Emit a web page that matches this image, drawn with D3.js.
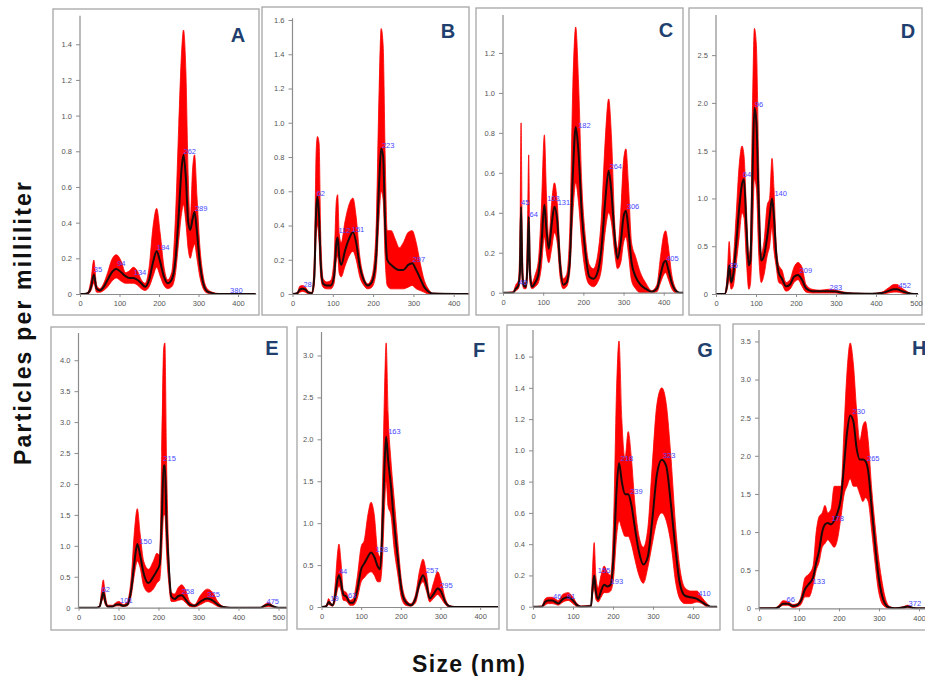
<!DOCTYPE html>
<html><head><meta charset="utf-8">
<script src="https://cdn.jsdelivr.net/npm/d3@7"></script>
<style>body{margin:0;background:#fff;overflow:hidden} svg{display:block}</style>
</head><body><svg id="c" width="925" height="676"></svg>
<script>
// rows: [size (nm), lower band, mean, upper band]  (particles per mL, scaled)
const dataA = [[0,0,0,0],[10,0,0,0],[20,0,0.005,0.01],[28,0.02,0.04,0.08],[35,0.06,0.11,0.19],[42,0.01,0.03,0.05],[50,0.01,0.02,0.03],[60,0.02,0.04,0.06],[70,0.04,0.08,0.12],[80,0.07,0.12,0.19],[92,0.09,0.14,0.22],[105,0.07,0.12,0.18],[115,0.06,0.10,0.12],[125,0.06,0.09,0.13],[135,0.06,0.09,0.15],[145,0.05,0.08,0.13],[155,0.03,0.06,0.08],[165,0.02,0.04,0.06],[175,0.04,0.08,0.15],[185,0.10,0.18,0.38],[194,0.15,0.24,0.48],[203,0.10,0.18,0.34],[212,0.05,0.10,0.16],[222,0.03,0.06,0.08],[232,0.04,0.08,0.12],[242,0.12,0.20,0.45],[250,0.30,0.45,0.95],[257,0.45,0.70,1.35],[262,0.50,0.78,1.48],[268,0.40,0.65,1.25],[274,0.25,0.40,0.65],[279,0.20,0.36,0.42],[285,0.25,0.42,0.70],[290,0.28,0.46,0.78],[296,0.20,0.35,0.55],[303,0.10,0.18,0.28],[312,0.03,0.06,0.10],[322,0.005,0.015,0.03],[335,0,0.005,0.01],[350,0,0,0.003],[445,0,0,0]];
const dataB = [[0,0,0,0],[12,0,0.005,0.01],[18,0.01,0.025,0.045],[25,0.015,0.03,0.05],[32,0.01,0.025,0.04],[40,0,0.008,0.015],[48,0,0.005,0.01],[54,0.05,0.1,0.2],[59,0.35,0.5,0.85],[62,0.4,0.57,0.92],[66,0.3,0.45,0.88],[70,0.1,0.18,0.35],[76,0.04,0.06,0.09],[85,0.03,0.05,0.07],[95,0.03,0.05,0.08],[103,0.06,0.1,0.2],[109,0.2,0.3,0.55],[112,0.22,0.33,0.58],[116,0.12,0.22,0.35],[121,0.1,0.17,0.3],[130,0.16,0.25,0.42],[140,0.22,0.32,0.52],[150,0.25,0.36,0.56],[158,0.2,0.3,0.45],[167,0.1,0.16,0.22],[177,0.05,0.08,0.1],[187,0.03,0.05,0.06],[197,0.04,0.07,0.1],[207,0.12,0.2,0.35],[215,0.45,0.65,1.2],[220,0.6,0.85,1.55],[225,0.55,0.8,1.45],[230,0.2,0.4,0.8],[235,0.05,0.2,0.37],[245,0.03,0.17,0.37],[255,0.03,0.15,0.32],[265,0.03,0.14,0.27],[275,0.03,0.14,0.3],[287,0.04,0.17,0.36],[297,0.05,0.18,0.37],[307,0.03,0.14,0.3],[317,0.02,0.09,0.18],[327,0.01,0.04,0.08],[337,0,0.015,0.03],[347,0,0.003,0.005],[437,0,0,0]];
const dataC = [[0,0,0,0],[25,0,0,0.005],[32,0.01,0.02,0.04],[38,0.02,0.035,0.06],[42,0.05,0.1,0.25],[45,0.25,0.43,0.85],[48,0.05,0.1,0.25],[52,0.02,0.035,0.05],[57,0.02,0.03,0.05],[61,0.08,0.15,0.35],[64,0.25,0.38,0.69],[67,0.05,0.1,0.2],[72,0.02,0.03,0.05],[80,0.03,0.05,0.09],[88,0.05,0.09,0.16],[95,0.12,0.22,0.4],[103,0.28,0.44,0.79],[108,0.2,0.32,0.5],[114,0.15,0.22,0.27],[121,0.22,0.34,0.45],[128,0.3,0.43,0.55],[135,0.25,0.36,0.45],[142,0.08,0.14,0.2],[150,0.02,0.04,0.07],[158,0.03,0.05,0.09],[166,0.1,0.15,0.3],[174,0.4,0.6,1.05],[181,0.55,0.83,1.33],[188,0.45,0.7,1.05],[196,0.25,0.4,0.55],[205,0.1,0.2,0.28],[215,0.04,0.08,0.14],[225,0.03,0.07,0.12],[235,0.05,0.1,0.18],[245,0.12,0.22,0.38],[254,0.3,0.45,0.75],[263,0.4,0.61,0.97],[270,0.35,0.5,0.78],[278,0.2,0.28,0.35],[285,0.12,0.17,0.22],[293,0.15,0.25,0.4],[300,0.25,0.38,0.66],[306,0.28,0.41,0.72],[312,0.2,0.32,0.55],[320,0.06,0.15,0.25],[330,0.02,0.08,0.18],[342,0,0.04,0.1],[355,0,0.02,0.05],[370,0,0.005,0.01],[383,0.005,0.02,0.04],[392,0.05,0.09,0.18],[400,0.09,0.15,0.29],[405,0.1,0.16,0.31],[411,0.07,0.12,0.24],[420,0.02,0.05,0.09],[430,0,0.01,0.02],[440,0,0,0],[448,0,0,0]];
const dataD = [[0,0,0,0],[22,0,0,0.005],[28,0.05,0.1,0.2],[33,0.15,0.3,0.55],[38,0.05,0.12,0.25],[43,0.08,0.2,0.35],[50,0.3,0.5,0.8],[58,0.6,0.9,1.35],[65,0.85,1.15,1.55],[70,0.8,1.2,1.45],[76,0.35,0.7,0.9],[82,0.05,0.3,0.4],[86,0.1,0.35,0.5],[91,0.6,1.2,1.9],[96,1.2,1.95,2.78],[101,1.1,1.8,2.6],[107,0.4,0.9,1.3],[113,0.12,0.35,0.42],[120,0.2,0.4,0.55],[128,0.4,0.6,0.93],[134,0.5,0.8,1.0],[140,0.7,1.0,1.42],[145,0.45,0.8,1.1],[150,0.3,0.45,0.55],[157,0.12,0.22,0.3],[165,0.1,0.16,0.25],[175,0.03,0.08,0.12],[185,0.05,0.1,0.15],[195,0.12,0.18,0.28],[205,0.15,0.2,0.33],[215,0.08,0.15,0.28],[225,0.02,0.06,0.1],[240,0.01,0.03,0.05],[260,0.01,0.03,0.04],[283,0.01,0.03,0.05],[300,0.01,0.025,0.04],[320,0,0.01,0.02],[350,0,0.005,0.008],[390,0,0.002,0.005],[415,0,0.01,0.02],[430,0.01,0.03,0.06],[445,0.02,0.05,0.1],[452,0.02,0.05,0.1],[465,0.01,0.03,0.06],[480,0,0.01,0.02],[495,0,0,0],[505,0,0,0]];
const dataE = [[0,0,0,0],[45,0,0,0.003],[53,0.01,0.02,0.04],[58,0.1,0.15,0.3],[62,0.15,0.25,0.45],[67,0.05,0.1,0.2],[73,0.01,0.02,0.04],[85,0.01,0.02,0.04],[95,0.03,0.05,0.09],[102,0.03,0.05,0.1],[112,0.02,0.03,0.05],[122,0.03,0.05,0.1],[132,0.2,0.3,0.5],[140,0.55,0.75,1.25],[147,0.75,1.03,1.6],[154,0.65,0.85,1.2],[163,0.35,0.55,0.75],[175,0.25,0.4,0.62],[187,0.3,0.5,0.75],[196,0.4,0.6,0.88],[203,0.45,0.7,0.85],[208,0.9,1.4,2.5],[213,1.5,2.3,4.2],[216,1.5,2.3,4.28],[220,0.9,1.4,2.4],[225,0.45,0.75,1.0],[232,0.1,0.18,0.25],[240,0.1,0.14,0.22],[250,0.12,0.19,0.33],[258,0.13,0.2,0.37],[268,0.08,0.13,0.28],[278,0.02,0.05,0.1],[290,0.01,0.03,0.05],[305,0.05,0.1,0.2],[322,0.1,0.15,0.3],[335,0.07,0.12,0.25],[348,0.02,0.05,0.1],[362,0,0.01,0.02],[380,0,0,0.003],[455,0,0,0.005],[465,0.01,0.03,0.05],[475,0.02,0.05,0.08],[487,0.01,0.02,0.03],[500,0,0,0],[520,0,0,0]];
const dataF = [[0,0,0,0],[12,0,0.01,0.02],[18,0.03,0.06,0.1],[22,0.02,0.04,0.06],[28,0.01,0.02,0.03],[35,0.08,0.15,0.3],[40,0.2,0.32,0.62],[44,0.25,0.38,0.75],[49,0.2,0.3,0.55],[55,0.08,0.15,0.2],[63,0.07,0.12,0.17],[72,0.02,0.05,0.08],[80,0.02,0.05,0.1],[90,0.1,0.2,0.35],[100,0.3,0.45,0.72],[108,0.35,0.52,0.8],[117,0.4,0.6,1.1],[125,0.42,0.65,1.25],[133,0.38,0.6,1.1],[142,0.3,0.48,0.65],[148,0.3,0.45,0.6],[154,0.6,1.0,1.5],[159,1.2,1.7,2.6],[163,1.5,2.03,3.15],[168,1.2,1.75,2.3],[175,1.1,1.45,1.75],[183,0.7,1.0,1.3],[192,0.4,0.6,0.8],[202,0.1,0.2,0.3],[212,0.02,0.06,0.1],[225,0.01,0.02,0.04],[237,0.05,0.1,0.15],[248,0.25,0.3,0.45],[256,0.3,0.38,0.57],[264,0.2,0.28,0.42],[273,0.06,0.1,0.15],[282,0.1,0.15,0.28],[293,0.15,0.22,0.42],[302,0.1,0.18,0.3],[312,0.03,0.06,0.1],[322,0,0.01,0.02],[335,0,0,0.005],[445,0,0,0]];
const dataG = [[0,0,0,0],[22,0,0,0.005],[30,0.01,0.03,0.05],[38,0.02,0.04,0.06],[48,0.02,0.04,0.06],[56,0.015,0.03,0.05],[63,0.01,0.02,0.04],[75,0.03,0.05,0.08],[88,0.04,0.06,0.09],[100,0.02,0.04,0.06],[110,0,0.01,0.02],[120,0,0,0.005],[145,0,0.005,0.01],[149,0.08,0.12,0.25],[153,0.12,0.2,0.41],[157,0.05,0.1,0.2],[163,0.03,0.05,0.12],[170,0.06,0.1,0.2],[178,0.09,0.14,0.26],[186,0.09,0.13,0.22],[194,0.1,0.14,0.2],[202,0.2,0.35,0.6],[209,0.45,0.75,1.4],[215,0.55,0.92,1.7],[222,0.5,0.8,1.2],[230,0.45,0.72,0.95],[238,0.45,0.72,1.12],[246,0.4,0.65,0.95],[255,0.3,0.5,0.65],[265,0.2,0.35,0.45],[276,0.15,0.27,0.38],[287,0.25,0.32,0.5],[298,0.4,0.55,0.9],[310,0.55,0.85,1.3],[322,0.6,0.94,1.4],[333,0.55,0.9,1.3],[345,0.4,0.65,0.95],[357,0.15,0.35,0.5],[367,0.05,0.15,0.25],[380,0.02,0.07,0.12],[395,0.02,0.06,0.1],[410,0.03,0.05,0.1],[422,0.02,0.03,0.06],[435,0,0.01,0.02],[445,0,0,0],[460,0,0,0]];
const dataH = [[0,0,0,0],[40,0,0,0.005],[50,0.01,0.02,0.04],[60,0.04,0.06,0.1],[72,0.04,0.06,0.09],[85,0.01,0.03,0.05],[95,0.02,0.04,0.06],[105,0.05,0.1,0.15],[115,0.15,0.25,0.4],[125,0.15,0.32,0.45],[135,0.3,0.4,0.55],[143,0.5,0.6,1.0],[150,0.6,0.75,1.2],[158,0.8,1.0,1.25],[165,0.85,1.1,1.35],[172,0.9,1.12,1.25],[180,0.85,1.1,1.3],[188,0.8,1.15,1.6],[196,0.9,1.25,1.6],[205,1.2,1.45,1.6],[213,1.5,1.9,2.4],[220,1.6,2.3,3.1],[228,1.7,2.53,3.48],[236,1.6,2.45,3.2],[244,1.6,2.1,2.6],[252,1.5,1.95,2.2],[260,1.4,1.95,2.4],[266,1.45,1.93,2.45],[273,1.4,1.8,2.2],[282,1.0,1.3,1.55],[290,0.6,0.85,1.1],[298,0.25,0.45,0.7],[306,0.08,0.2,0.4],[315,0.02,0.06,0.15],[325,0,0.01,0.03],[340,0,0,0.005],[360,0,0.01,0.02],[372,0.01,0.025,0.04],[385,0,0.005,0.01],[400,0,0,0],[450,0,0,0]];

// peak labels: [size, value, text]
const peaksA = [[35,0.14,"35"],[94,0.17,"94"],[136,0.12,"134"],[195,0.26,"194"],[262,0.8,"262"],[291,0.48,"289"],[380,0.02,"380"]];
const peaksB = [[27,0.055,"28"],[60,0.59,"62"],[114,0.37,"112"],[147,0.38,"151"],[222,0.87,"223"],[298,0.2,"297"]];
const peaksC = [[40,0.05,"40"],[45,0.45,"45"],[66,0.39,"64"],[110,0.47,"103"],[136,0.45,"131"],[187,0.84,"182"],[265,0.63,"264"],[308,0.43,"306"],[406,0.17,"405"]];
const peaksD = [[34,0.3,"35"],[67,1.25,"64"],[97,1.98,"96"],[146,1.05,"140"],[209,0.25,"209"],[284,0.07,"283"],[456,0.09,"452"]];
const peaksE = [[58,0.29,"62"],[104,0.12,"101"],[152,1.08,"150"],[212,2.42,"215"],[258,0.26,"258"],[322,0.22,"325"],[470,0.1,"475"]];
const peaksF = [[22,0.1,"19"],[44,0.43,"44"],[67,0.14,"63"],[136,0.69,"128"],[168,2.1,"163"],[263,0.44,"257"],[299,0.26,"295"]];
const peaksG = [[50,0.064,"46"],[85,0.068,"91"],[162,0.23,"155"],[194,0.16,"193"],[219,0.95,"218"],[243,0.74,"239"],[325,0.97,"323"],[413,0.085,"410"]];
const peaksH = [[69,0.12,"66"],[134,0.35,"133"],[181,1.18,"178"],[234,2.58,"230"],[270,1.97,"265"],[374,0.07,"372"]];

// tick labels
const yTicksA = ["0","0.2","0.4","0.6","0.8","1.0","1.2","1.4"];
const yTicksB = ["0","0.2","0.4","0.6","0.8","1.0","1.2","1.4","1.6"];
const yTicksC = ["0","0.2","0.4","0.6","0.8","1.0","1.2"];
const yTicksD = ["0","0.5","1.0","1.5","2.0","2.5"];
const yTicksE = ["0","0.5","1.0","1.5","2.0","2.5","3.0","3.5","4.0"];
const yTicksF = ["0","0.5","1.0","1.5","2.0","2.5","3.0"];
const yTicksG = ["0","0.2","0.4","0.6","0.8","1.0","1.2","1.4","1.6"];
const yTicksH = ["0","0.5","1.0","1.5","2.0","2.5","3.0","3.5"];
const xTicks4 = ["0","100","200","300","400"];
const xTicks5 = ["0","100","200","300","400","500"];

const panelLetters = ["A","B","C","D","E","F","G","H"];
const yTitle = "Particles per milliliter";
const xTitle = "Size (nm)";

const panels = [
  {L:"A", data:dataA, peaks:peaksA, yt:yTicksA, xt:xTicks4, frame:[53,9,259,315], xr:[80,255.8], xMax:445, yr:[294,15.7], yMax:1.56, letter:[238,42,"middle"]},
  {L:"B", data:dataB, peaks:peaksB, yt:yTicksB, xt:xTicks4, frame:[262,7,469,315], xr:[292.5,468.6], xMax:437, yr:[294,18.3], yMax:1.61, letter:[448,38,"middle"]},
  {L:"C", data:dataC, peaks:peaksC, yt:yTicksC, xt:xTicks4, frame:[476,8,683,315], xr:[503,683], xMax:448, yr:[292.7,15], yMax:1.39, letter:[666,37,"middle"]},
  {L:"D", data:dataD, peaks:peaksD, yt:yTicksD, xt:xTicks5, frame:[689,8,922,315], xr:[716,918], xMax:505, yr:[294,15], yMax:2.92, letter:[908,38,"middle"]},
  {L:"E", data:dataE, peaks:peaksE, yt:yTicksE, xt:xTicks5, frame:[51,327,287,630], xr:[78.5,286.5], xMax:520, yr:[607.7,333], yMax:4.44, letter:[272,355,"middle"]},
  {L:"F", data:dataF, peaks:peaksF, yt:yTicksF, xt:xTicks4, frame:[297,327,499,629], xr:[321.5,498], xMax:445, yr:[607,332], yMax:3.28, letter:[479,357,"middle"]},
  {L:"G", data:dataG, peaks:peaksG, yt:yTicksG, xt:xTicks4, frame:[507,325,720,630], xr:[533,717], xMax:460, yr:[606.7,330], yMax:1.77, letter:[705,357,"middle"]},
  {L:"H", data:dataH, peaks:peaksH, yt:yTicksH, xt:xTicks4, frame:[733,324,932,630], xr:[759,939], xMax:450, yr:[608.3,330], yMax:3.65, letter:[912,355,"start"]}
];

const svg = d3.select("#c");
const FONT = "'Liberation Sans', Arial, sans-serif";

panels.forEach((p, i) => {
  const g = svg.append("g");
  const [fx0, fy0, fx1, fy1] = p.frame;
  g.append("rect").attr("x", fx0).attr("y", fy0).attr("width", fx1 - fx0).attr("height", fy1 - fy0)
    .attr("fill", "#fff").attr("stroke", "#a6a6a6").attr("stroke-width", 1.3);

  const x = d3.scaleLinear().domain([0, p.xMax]).range(p.xr);
  const y = d3.scaleLinear().domain([0, p.yMax]).range(p.yr);

  const clipId = "clip" + p.L;
  svg.append("clipPath").attr("id", clipId).append("rect")
    .attr("x", p.xr[0]).attr("y", fy0 + 1).attr("width", Math.min(p.xr[1], fx1) - p.xr[0]).attr("height", p.yr[0] - fy0);

  const plot = g.append("g").attr("clip-path", `url(#${clipId})`);
  const area = d3.area().x(d => x(d[0])).y0(d => y(d[1])).y1(d => y(d[3])).curve(d3.curveMonotoneX);
  const line = d3.line().x(d => x(d[0])).y(d => y(d[2])).curve(d3.curveMonotoneX);
  plot.append("path").datum(p.data).attr("d", area).attr("fill", "#ff0000").attr("stroke", "#ff0000").attr("stroke-width", 0.8);
  plot.append("path").datum(p.data).attr("d", line).attr("fill", "none").attr("stroke", "#1a0a0a").attr("stroke-width", 2).attr("stroke-linejoin", "round");

  // axes
  const yVals = p.yt.map(Number);
  const ya = d3.axisLeft(y).tickValues(yVals).tickFormat((d, k) => p.yt[k]).tickSize(4).tickPadding(4).tickSizeOuter(0);
  const gy = g.append("g").attr("transform", `translate(${p.xr[0]},0)`).call(ya);
  gy.select(".domain").attr("d", `M0,${p.yr[0]}V${p.yr[1]}`);
  const xVals = p.xt.map(Number);
  const xa = d3.axisBottom(x).tickValues(xVals).tickFormat((d, k) => p.xt[k]).tickSize(3).tickPadding(4).tickSizeOuter(0);
  const gx = g.append("g").attr("transform", `translate(0,${p.yr[0]})`).call(xa);
  [gy, gx].forEach(a => {
    a.selectAll(".domain").attr("stroke", "#8c8c8c").attr("stroke-width", 1.2);
    a.selectAll(".tick line").attr("stroke", "#8c8c8c");
    a.selectAll(".tick text").attr("fill", "#555").style("font-family", FONT).style("font-size", "7.5px");
  });

  // peak labels
  g.selectAll("text.pk").data(p.peaks).join("text").attr("class", "pk")
    .attr("x", d => x(d[0])).attr("y", d => y(d[1])).attr("dy", "0.35em")
    .attr("fill", "#4848ff").style("font-family", FONT).style("font-size", "7.5px").text(d => d[2]);

  // panel letter
  g.append("text").attr("x", p.letter[0]).attr("y", p.letter[1]).attr("text-anchor", p.letter[2])
    .attr("fill", "#213f6e").style("font-family", FONT).style("font-weight", "bold").style("font-size", "20px")
    .text(panelLetters[i]);
});

svg.append("text").attr("transform", "translate(31,323.5) rotate(-90)").attr("text-anchor", "middle")
  .attr("textLength", 283).attr("lengthAdjust", "spacing")
  .style("font-family", FONT).style("font-weight", "bold").style("font-size", "23px").attr("fill", "#111").text(yTitle);
svg.append("text").attr("x", 468.5).attr("y", 672).attr("text-anchor", "middle")
  .attr("textLength", 113).attr("lengthAdjust", "spacing")
  .style("font-family", FONT).style("font-weight", "bold").style("font-size", "23px").attr("fill", "#111").text(xTitle);
</script>
</body></html>
